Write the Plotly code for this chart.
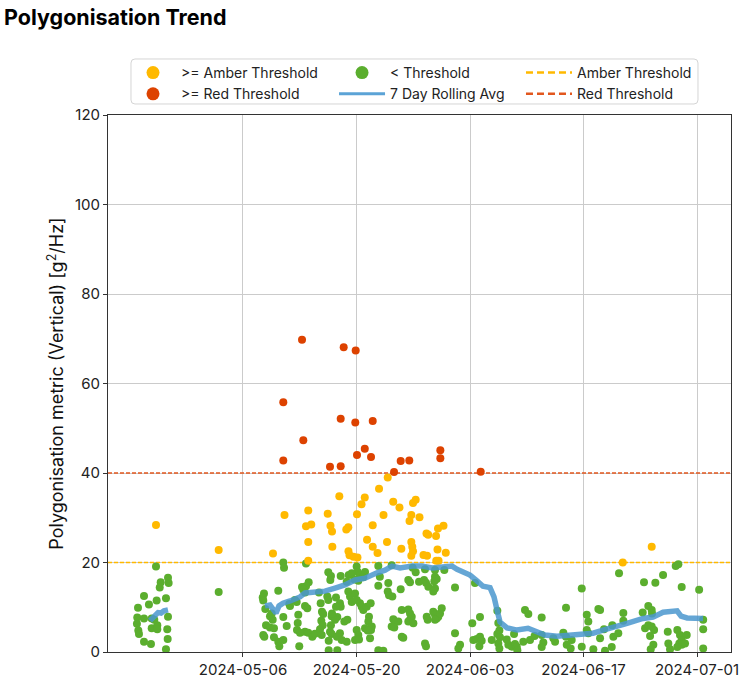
import pandas as pd
import plotly.graph_objects as go

# ---------------- data (day offsets from START, metric values) ----------------
START = pd.Timestamp("2024-05-06")
AMBER_THRESHOLD = 20
RED_THRESHOLD = 40
X_RANGE_DAYS = [-16.65, 60.19]
TICK_DATES = ["2024-05-06", "2024-05-20", "2024-06-03", "2024-06-17", "2024-07-01"]
Y_TICKS = [0, 20, 40, 60, 80, 100, 120]

red_points = [
    (7.28, 69.8), (12.42, 68.1), (13.90, 67.4), (4.97, 55.8), (12.05, 52.1),
    (13.85, 51.3), (16.00, 51.6), (7.44, 47.3), (15.02, 45.4), (14.06, 44.0),
    (15.79, 43.6), (4.97, 42.8), (10.73, 41.4), (12.05, 41.5), (19.45, 42.7),
    (20.51, 42.8), (24.34, 45.1), (24.34, 43.3), (18.63, 40.2), (29.32, 40.3),
]

amber_points = [
    (-10.73, 28.4), (-3.0, 22.8), (17.85, 39.0), (16.78, 36.5), (11.88, 34.8),
    (15.02, 34.5), (14.62, 33.0), (18.53, 33.6), (20.97, 33.3), (21.30, 34.0),
    (19.30, 32.3), (8.05, 31.6), (5.12, 30.6), (10.45, 30.9), (14.06, 30.8),
    (17.33, 30.6), (20.76, 30.6), (21.77, 30.1), (20.54, 29.3), (7.77, 28.1),
    (8.42, 28.5), (10.79, 28.2), (10.98, 26.9), (12.74, 27.4), (12.99, 27.9),
    (16.00, 28.3), (22.63, 26.5), (22.84, 26.2), (23.81, 25.9), (24.05, 27.6),
    (24.73, 28.2), (8.05, 24.6), (15.30, 25.1), (17.76, 24.6), (20.76, 24.6),
    (11.02, 23.5), (16.00, 23.5), (19.53, 23.1), (20.88, 23.5), (20.97, 22.5),
    (3.70, 22.0), (13.01, 22.5), (16.59, 22.1), (23.99, 22.9), (25.01, 22.2),
    (13.14, 21.6), (13.63, 21.3), (14.12, 21.1), (20.76, 21.5), (22.26, 21.7),
    (22.70, 21.5), (8.05, 20.4), (23.84, 20.4), (24.12, 20.4), (46.84, 20.0),
    (50.41, 23.5),
]

green_points = [
    (-10.73, 19.1), (-9.25, 16.6), (-9.17, 15.4), (-10.15, 15.6), (-10.27, 14.4),
    (-3.0, 13.4), (-12.21, 12.5), (-10.65, 11.5), (-9.50, 12.0), (-11.60, 10.6),
    (-12.95, 9.9), (-13.04, 7.7), (-12.21, 7.5), (-11.26, 7.5), (-9.25, 7.9),
    (-13.08, 6.3), (-11.26, 5.3), (-10.57, 6.0), (-10.57, 5.1), (-9.34, 5.1),
    (-12.91, 4.8), (-12.83, 4.0), (-9.29, 2.9), (-12.21, 2.3), (-11.35, 1.8),
    (-9.50, 0.6), (-10.94, 7.2),
    (4.97, 20.0), (5.06, 18.8), (7.77, 19.8), (10.52, 17.8), (10.85, 17.0),
    (10.77, 16.1), (12.05, 17.0), (13.04, 17.2), (8.10, 15.6), (7.77, 14.7),
    (7.28, 14.5), (7.44, 13.9), (7.65, 13.3), (2.59, 13.1), (2.43, 12.2),
    (2.50, 11.5), (4.35, 13.7), (6.41, 11.6), (6.62, 11.2), (9.37, 13.3),
    (10.40, 12.4), (10.52, 11.6), (11.47, 12.2), (11.96, 10.9), (12.05, 10.1),
    (5.80, 10.3), (7.65, 10.3), (7.93, 9.8), (2.75, 9.6), (9.58, 10.9),
    (9.74, 9.0), (9.90, 8.5), (10.94, 8.0), (11.63, 7.8), (11.35, 7.2),
    (3.33, 8.0), (3.66, 7.2), (4.97, 7.8), (6.82, 8.3), (6.75, 6.5),
    (2.84, 6.0), (3.33, 5.5), (3.82, 5.3), (5.39, 5.8), (9.66, 7.0),
    (9.83, 6.0), (10.85, 6.0), (12.50, 6.8), (12.87, 7.2), (7.65, 4.5),
    (8.05, 4.3), (8.55, 3.4), (8.88, 4.1), (6.66, 4.9), (7.03, 4.3),
    (9.50, 5.1), (9.71, 3.8), (2.50, 3.8), (2.63, 3.4), (3.82, 3.3),
    (4.35, 2.3), (4.48, 1.3), (4.97, 2.7), (10.73, 4.5), (10.94, 4.0),
    (11.96, 4.2), (6.94, 1.3), (10.57, 2.5), (10.57, 0.4), (11.63, 0.4),
    (12.17, 2.7), (12.79, 2.3), (5.71, 10.7), (3.54, 8.6), (11.47, 10.1),
    (10.98, 8.6), (11.59, 3.4),
    (14.02, 19.1), (14.15, 17.9), (13.41, 17.6), (13.73, 16.2), (14.43, 17.2),
    (14.22, 15.9), (16.69, 19.2), (18.34, 19.4), (20.93, 18.8), (21.30, 17.8),
    (22.45, 18.5), (23.68, 18.3), (23.68, 16.8), (23.89, 16.3), (23.60, 15.8),
    (24.83, 18.3), (16.69, 14.8), (17.92, 15.4), (17.85, 13.5), (18.01, 12.7),
    (18.42, 12.4), (19.45, 14.0), (20.39, 16.1), (20.60, 15.6), (21.71, 15.7),
    (22.33, 16.1), (22.57, 15.5), (22.86, 14.6), (23.68, 14.2), (23.47, 13.5),
    (12.79, 15.7), (12.99, 13.5), (13.20, 12.4), (13.41, 11.2), (13.82, 13.1),
    (14.02, 11.6), (14.43, 10.9), (14.64, 10.1), (14.84, 9.4), (15.26, 10.1),
    (15.54, 7.9), (15.46, 6.8), (15.88, 5.7), (15.79, 4.9), (14.02, 4.9),
    (14.22, 3.8), (13.82, 2.7), (14.31, 2.8), (15.05, 5.3), (15.38, 4.8),
    (15.67, 3.1), (18.54, 7.3), (18.75, 6.8), (19.16, 6.8), (18.34, 5.7),
    (18.66, 5.5), (19.58, 9.4), (20.39, 9.5), (20.60, 8.6), (20.81, 7.9),
    (20.60, 7.2), (20.39, 6.8), (21.01, 6.4), (19.58, 3.4), (19.77, 3.2),
    (22.66, 7.9), (22.78, 7.2), (23.47, 9.0), (23.68, 8.3), (23.89, 7.5),
    (24.09, 7.9), (24.30, 8.6), (23.68, 7.2), (22.45, 1.9), (22.57, 1.3),
    (16.69, 0.4), (17.31, 0.3), (16.88, 16.8), (15.05, 17.9), (14.84, 16.7),
    (15.75, 10.9), (24.51, 9.8),
    (26.15, 14.4), (28.61, 15.4), (26.15, 4.2), (26.77, 1.6), (26.56, 0.8),
    (28.28, 6.4), (29.23, 7.8), (28.41, 2.7), (28.83, 2.9), (29.23, 3.4),
    (29.44, 2.5), (29.15, 1.3), (30.68, 2.7), (31.37, 9.2), (31.49, 6.5),
    (31.62, 4.8), (31.37, 4.0), (31.70, 3.3), (31.49, 1.9), (31.62, 0.8),
    (32.53, 2.8), (32.73, 1.6), (33.14, 1.2), (33.55, 1.8), (33.77, 1.2),
    (33.84, 0.4), (33.43, 4.0), (34.78, 9.4), (35.19, 8.5), (35.40, 2.7),
    (34.57, 2.3), (36.84, 7.7), (36.84, 3.8), (37.04, 2.1), (36.84, 1.1),
    (38.28, 3.1), (38.49, 2.3), (39.51, 4.3), (39.84, 3.4), (39.84, 9.9),
    (39.93, 1.6), (40.42, 0.8), (40.54, 2.7), (41.78, 14.2), (42.40, 8.3),
    (42.59, 6.8), (42.40, 4.9), (42.59, 4.2), (41.78, 1.2), (35.96, 3.6),
    (46.38, 17.6), (49.46, 15.6), (50.86, 15.5), (51.81, 17.2), (53.37, 19.2),
    (53.70, 19.6), (54.11, 14.5), (56.26, 13.9), (43.83, 9.6), (44.04, 9.4),
    (46.91, 8.7), (46.91, 7.0), (49.30, 8.8), (49.99, 10.3), (50.41, 9.4),
    (50.45, 8.6), (44.53, 5.1), (45.55, 6.0), (45.68, 3.4), (44.04, 3.1),
    (49.59, 5.3), (49.99, 6.0), (50.41, 5.7), (50.70, 4.9), (50.21, 3.6),
    (50.61, 1.6), (50.29, 0.6), (52.39, 4.5), (52.46, 1.9), (52.67, 0.6),
    (53.57, 4.9), (53.90, 3.8), (54.73, 3.8), (54.11, 2.7), (53.81, 1.9),
    (54.11, 1.6), (53.57, 1.1), (54.52, 1.9), (56.76, 7.2), (56.76, 5.1),
    (56.76, 0.8), (43.21, 0.6), (44.65, 0.3), (45.48, 1.1), (46.29, 4.2),
]

rolling_points = [
    (-11.47, 7.0), (-11.22, 7.4), (-10.98, 7.8), (-10.73, 8.5), (-10.48, 8.8),
    (-10.11, 8.7), (-9.74, 9.2), (-9.25, 9.4),
    (-3.0, None),
    (2.71, 10.3), (3.33, 10.5), (3.70, 9.6), (4.07, 8.7), (4.44, 10.3),
    (4.93, 10.9), (5.80, 11.4), (7.03, 12.3), (7.65, 13.2), (8.88, 13.4),
    (10.11, 13.6), (11.35, 14.3), (12.58, 15.0), (13.82, 16.1), (15.05, 16.5),
    (16.53, 17.7), (17.52, 18.3), (18.38, 19.2), (19.37, 18.8), (20.85, 19.2),
    (22.08, 19.2), (23.31, 18.8), (24.67, 19.0), (25.78, 19.2), (26.40, 18.5),
    (28.00, 17.2), (28.86, 15.9), (29.60, 14.7), (30.47, 14.4), (30.96, 12.3),
    (31.33, 9.4), (31.70, 6.7), (32.57, 5.4), (33.80, 4.9), (35.16, 5.3),
    (36.27, 4.5), (37.25, 3.8), (38.73, 3.5), (40.34, 3.8), (41.94, 4.0),
    (43.17, 4.2), (44.41, 4.9), (46.14, 5.7), (47.37, 6.4), (49.34, 7.5),
    (50.58, 7.8), (51.81, 8.9), (52.67, 8.9), (53.54, 9.2), (54.03, 8.0),
    (54.77, 7.6), (56.74, 7.5),
]

# ---------------- styling ----------------
FONT = "Inter, 'Libre Franklin', 'Liberation Sans', sans-serif"
AMBER = "#FFB900"
RED = "#DD4200"
RED_LINE = "#E2571E"
GREEN = "#5BAE2E"
BLUE = "rgba(74,151,206,0.85)"


def to_dates(days):
    return [START + pd.Timedelta(days=d) for d in days]


def split(points):
    days = [p[0] for p in points]
    vals = [p[1] for p in points]
    return to_dates(days), vals


fig = go.Figure()

# threshold lines (across the full x range, beneath the dots)
x_span = to_dates(X_RANGE_DAYS)
for val, col in [(AMBER_THRESHOLD, AMBER), (RED_THRESHOLD, RED_LINE)]:
    fig.add_trace(go.Scatter(x=x_span, y=[val, val], mode="lines", showlegend=False,
                             hoverinfo="skip",
                             line=dict(color=col, width=1.4, dash="4px,2px")))

for pts, col in [(green_points, GREEN), (amber_points, AMBER), (red_points, RED)]:
    xs, ys = split(pts)
    fig.add_trace(go.Scatter(x=xs, y=ys, mode="markers", showlegend=False,
                             marker=dict(size=8, color=col, line=dict(width=0))))

xs, ys = split(rolling_points)
fig.add_trace(go.Scatter(x=xs, y=ys, mode="lines", showlegend=False, connectgaps=False,
                         line=dict(color=BLUE, width=5.5)))


# legend-only entries
def leg(name, legend, group, **kw):
    fig.add_trace(go.Scatter(x=[None], y=[None], name=name, legend=legend,
                             legendgroup=group, **kw))


leg(">= Amber Threshold", "legend", "a", mode="markers", marker=dict(size=13, color=AMBER))
leg(">= Red Threshold", "legend", "b", mode="markers", marker=dict(size=13, color=RED))
leg("< Threshold", "legend2", "c", mode="markers", marker=dict(size=13, color=GREEN))
leg("7 Day Rolling Avg", "legend2", "d", mode="lines", line=dict(color="#5BA3D6", width=3))
leg("Amber Threshold", "legend3", "e", mode="lines", line=dict(color=AMBER, width=2.5, dash="7px,4px"))
leg("Red Threshold", "legend3", "f", mode="lines", line=dict(color=RED_LINE, width=2.5, dash="7px,4px"))

# legend frame (rounded)
x0, x1, y0, y1 = 0.0369, 0.947, 1.0205, 1.1043
rx, ry = 0.0064, 0.0074
path = (f"M {x0+rx},{y0} L {x1-rx},{y0} Q {x1},{y0} {x1},{y0+ry} L {x1},{y1-ry} "
        f"Q {x1},{y1} {x1-rx},{y1} L {x0+rx},{y1} Q {x0},{y1} {x0},{y1-ry} "
        f"L {x0},{y0+ry} Q {x0},{y0} {x0+rx},{y0} Z")
fig.add_shape(type="path", xref="paper", yref="paper", path=path,
              line=dict(color="#d5d5d5", width=1))

legend_common = dict(font=dict(family=FONT, size=14, color="#222"), bgcolor="rgba(0,0,0,0)",
                     borderwidth=0, itemwidth=46, yanchor="top", xanchor="left",
                     tracegroupgap=0, orientation="v")
LEG_Y = 1.108

fig.update_layout(
    width=748, height=679,
    margin=dict(l=108, r=17, t=115, b=27, autoexpand=False),
    paper_bgcolor="white", plot_bgcolor="white",
    font=dict(family=FONT, color="#222"),
    title=dict(text="<b>Polygonisation Trend</b>", x=0, xref="container", xanchor="left",
               y=1 - 17 / 679, yref="container", yanchor="middle",
               pad=dict(l=4),
               font=dict(family=FONT, size=21.5, color="black")),
    legend=dict(x=0.0273, y=LEG_Y, **legend_common),
    legend2=dict(x=0.3628, y=LEG_Y, **legend_common),
    legend3=dict(x=0.6629, y=LEG_Y, **legend_common),
    xaxis=dict(type="date", range=x_span, tickvals=TICK_DATES, automargin=False,
               ticktext=TICK_DATES, showgrid=True, gridcolor="#cbcbcb", gridwidth=1,
               showline=True, mirror=True, linecolor="#333", linewidth=1,
               ticks="outside", ticklen=4, tickcolor="#333", zeroline=False,
               tickfont=dict(family=FONT, size=15, color="#222")),
    yaxis=dict(range=[0, 120], tickvals=Y_TICKS, showgrid=True, gridcolor="#cbcbcb",
               gridwidth=1, showline=True, mirror=True, linecolor="#333", linewidth=1,
               ticks="outside", ticklen=4, tickcolor="#333", zeroline=False, automargin=False,
               tickfont=dict(family=FONT, size=15, color="#222"),
               title=dict(text="Polygonisation metric (Vertical) [g<sup>2</sup>/Hz]",
                          font=dict(family=FONT, size=18, color="#111"), standoff=6)),
)

fig.write_html("out.html", config={"displayModeBar": False},
               post_script="document.body.style.margin='0';")
